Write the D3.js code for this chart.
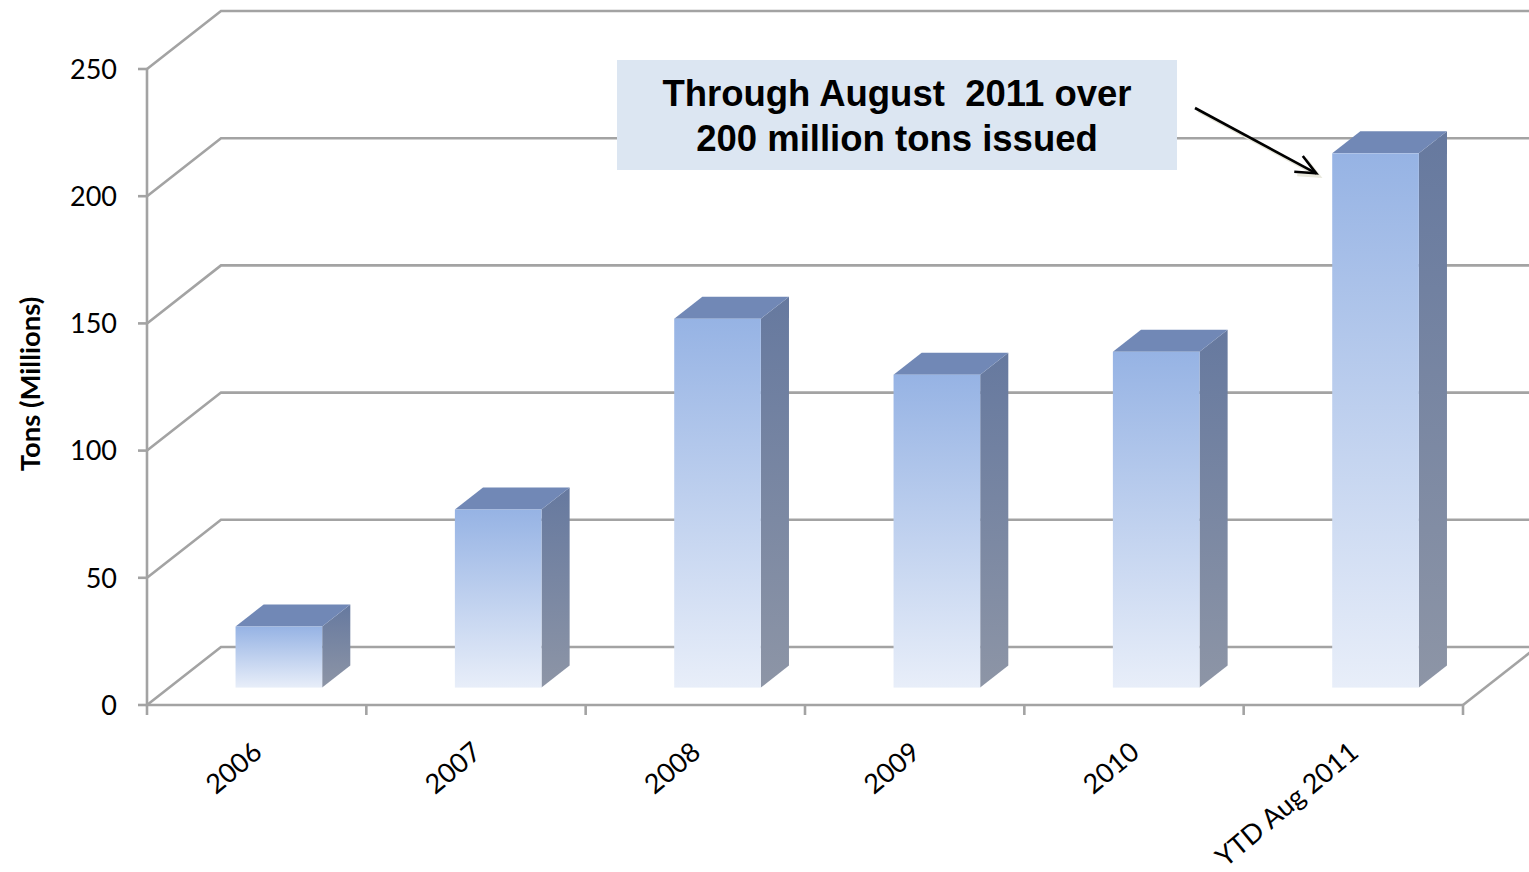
<!DOCTYPE html>
<html>
<head>
<meta charset="utf-8">
<script src="https://cdn.jsdelivr.net/npm/d3@7/dist/d3.min.js"></script>
<style>
  html, body { margin: 0; padding: 0; background: #ffffff; }
  svg { display: block; }
</style>
</head>
<body>
<svg id="chart" width="1529" height="872"></svg>
<script>
// Annual issuance, millions of tons
const categories = ["2006", "2007", "2008", "2009", "2010", "YTD Aug 2011"];
const tons = [24, 70, 145, 123, 132, 210];
const yTicks = [0, 50, 100, 150, 200, 250];
const yTitle = "Tons (Millions)";
const noteLines = ["Through August  2011 over", "200 million tons issued"];

const svg = d3.select("#chart");

// Front plane of the plot and the oblique depth of the 3-D box
const x0 = 147, x1 = 1463;
const DX = 74, DY = 58;             // offset of the back wall
const zFront = 0.30, zDepth = 0.38; // bar placement along the depth

const x = d3.scaleBand().domain(categories).range([x0, x1]).paddingInner(0).paddingOuter(0);
const y = d3.scaleLinear().domain([0, 250]).range([705, 69]);

// project a point (screen x on the front plane, value, depth 0..1)
const P = (px, v, z) => [px + z * DX, y(v) - z * DY];

const defs = svg.append("defs");
const gFront = defs.append("linearGradient").attr("id", "gFront")
  .attr("x1", 0).attr("y1", 0).attr("x2", 0).attr("y2", 1);
gFront.append("stop").attr("offset", 0).attr("stop-color", "#96b3e4");
gFront.append("stop").attr("offset", 1).attr("stop-color", "#e8eef9");
const gSide = defs.append("linearGradient").attr("id", "gSide")
  .attr("x1", 0).attr("y1", 0).attr("x2", 0).attr("y2", 1);
gSide.append("stop").attr("offset", 0).attr("stop-color", "#66799f");
gSide.append("stop").attr("offset", 1).attr("stop-color", "#8d95a6");

const gridColor = "#a3a3a3";
const grid = svg.append("g").attr("fill", "none").attr("stroke", gridColor).attr("stroke-width", 2.6);

// back wall gridlines and side wall diagonals
yTicks.forEach(v => {
  const a = P(x0, v, 0), b = P(x0, v, 1), c = P(x1, v, 1);
  grid.append("path").attr("d", d3.line()([a, b, c]));
});
// floor: right edge diagonal
grid.append("path").attr("d", d3.line()([P(x1, 0, 0), P(x1, 0, 1)]));

// front axes
const axes = svg.append("g").attr("stroke", gridColor).attr("stroke-width", 2.6).attr("fill", "none");
axes.append("path").attr("d", d3.line()([[x0, y(250)], [x0, y(0)], [x1, y(0)]]));
yTicks.forEach(v => axes.append("path").attr("d", d3.line()([[x0 - 9, y(v)], [x0, y(v)]])));
const bounds = categories.map(c => x(c)).concat([x1]);
bounds.forEach(bx => axes.append("path").attr("d", d3.line()([[bx, y(0)], [bx, y(0) + 10]])));

// bars
const bw = x.bandwidth() * 0.395;
const bars = svg.append("g");
categories.forEach((c, i) => {
  const v = tons[i];
  const cx = x(c) + x.bandwidth() / 2;
  const l = cx - bw / 2, r = cx + bw / 2;
  const fz = zFront, bz = zFront + zDepth;
  // side face
  bars.append("path")
    .attr("d", d3.line()([P(r, 0, fz), P(r, v, fz), P(r, v, bz), P(r, 0, bz)]) + "Z")
    .attr("fill", "url(#gSide)");
  // top face
  bars.append("path")
    .attr("d", d3.line()([P(l, v, fz), P(r, v, fz), P(r, v, bz), P(l, v, bz)]) + "Z")
    .attr("fill", "#7188b6");
  // front face
  const tl = P(l, v, fz), br = P(r, 0, fz);
  bars.append("rect")
    .attr("x", tl[0]).attr("y", tl[1])
    .attr("width", br[0] - tl[0]).attr("height", br[1] - tl[1])
    .attr("fill", "url(#gFront)");
});

// y tick labels
const font = "Lato, 'Open Sans', sans-serif";
svg.append("g").selectAll("text").data(yTicks).join("text")
  .attr("x", x0 - 30).attr("y", d => y(d))
  .attr("dy", "0.36em")
  .attr("text-anchor", "end")
  .attr("font-family", font).attr("font-size", 27).attr("fill", "#000")
  .text(d => d);

// category labels, rotated
svg.append("g").selectAll("text").data(categories).join("text")
  .attr("transform", d => `translate(${x(d) + x.bandwidth() / 2 + 7},${y(0) + 50}) rotate(-40)`)
  .attr("text-anchor", "end")
  .attr("font-family", font).attr("font-size", 27).attr("fill", "#000")
  .text(d => d);

// y axis title
svg.append("text")
  .attr("transform", `translate(40,${(y(0) + y(250)) / 2 - 3}) rotate(-90)`)
  .attr("text-anchor", "middle")
  .attr("font-family", font).attr("font-weight", "bold").attr("font-size", 27.5).attr("fill", "#000")
  .text(yTitle);

// callout
const note = svg.append("g");
note.append("rect").attr("x", 617).attr("y", 60).attr("width", 560).attr("height", 110).attr("fill", "#dce6f2");
note.selectAll("text").data(noteLines).join("text")
  .attr("x", 897).attr("y", (d, i) => 106 + i * 45)
  .attr("text-anchor", "middle")
  .attr("font-family", "'Liberation Sans', Arial, sans-serif").attr("font-weight", "bold")
  .attr("font-size", 36.5).attr("fill", "#000")
  .style("white-space", "pre")
  .text(d => d);

// arrow pointing at the latest bar
const last = categories[categories.length - 1];
const tip = [x(last) + x.bandwidth() / 2 - bw / 2 + zFront * DX - 16, y(tons[tons.length - 1]) - zFront * DY + 20];
const tail = [1195, 108];
const ang = Math.atan2(tip[1] - tail[1], tip[0] - tail[0]);
const head = (s) => [[tip[0] - 22 * Math.cos(ang - s), tip[1] - 22 * Math.sin(ang - s)], tip,
                     [tip[0] - 22 * Math.cos(ang + s), tip[1] - 22 * Math.sin(ang + s)]];
const arrowShadow = svg.append("g").attr("fill", "none").attr("stroke", "#e9e8dc").attr("stroke-width", 3)
  .attr("transform", "translate(3,3)");
arrowShadow.append("path").attr("d", d3.line()([tail, tip]));
arrowShadow.append("path").attr("d", d3.line()(head(0.42)));
const arrow = svg.append("g").attr("fill", "none").attr("stroke", "#000").attr("stroke-width", 2.6);
arrow.append("path").attr("d", d3.line()([tail, tip]));
arrow.append("path").attr("d", d3.line()(head(0.42)));
</script>
</body>
</html>
